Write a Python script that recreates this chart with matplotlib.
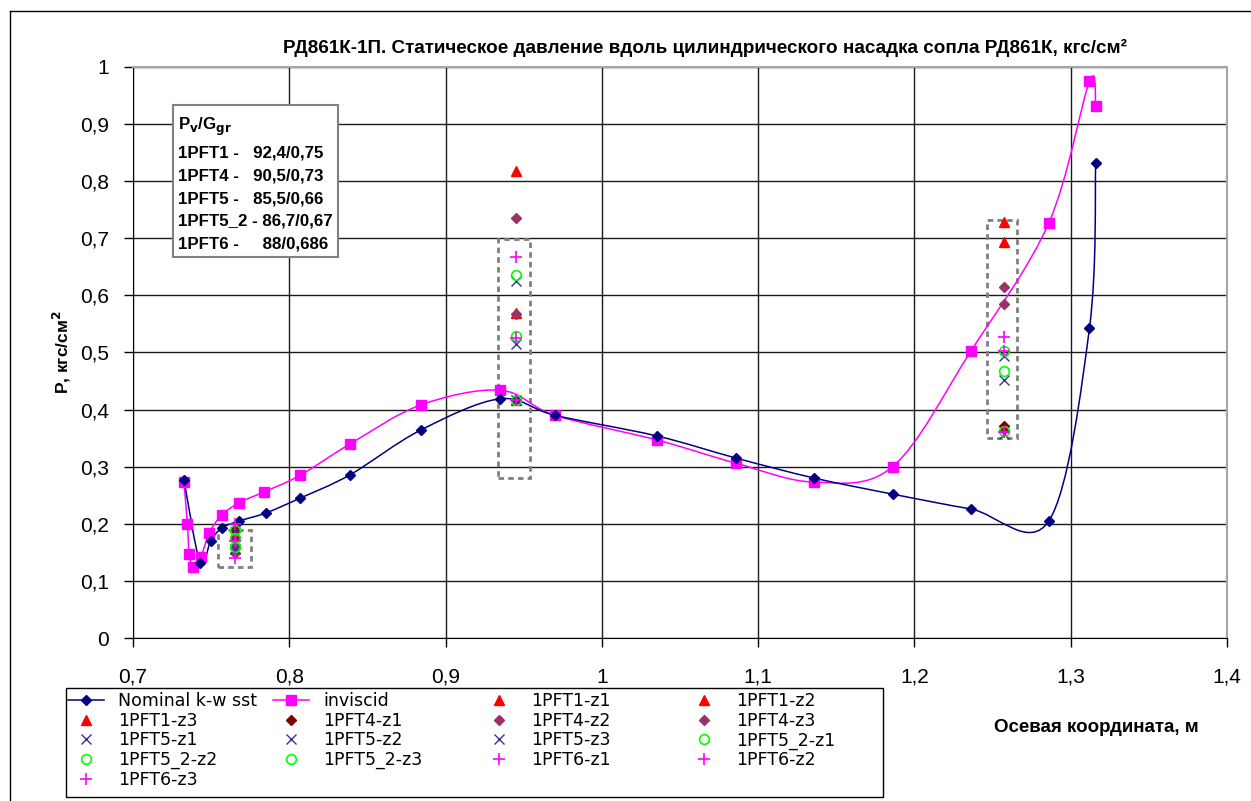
import numpy as np
import matplotlib
matplotlib.use("Agg")
import matplotlib.pyplot as plt
from matplotlib.path import Path
from matplotlib.patches import PathPatch, Rectangle
from matplotlib.lines import Line2D
from matplotlib.ticker import FuncFormatter, MultipleLocator

# CFD: nominal k-w SST and inviscid runs
nom_x = [0.7326, 0.743, 0.7497, 0.757, 0.768, 0.785, 0.807, 0.839, 0.884,
         0.935, 0.970, 1.035, 1.086, 1.136, 1.186, 1.236, 1.286, 1.312, 1.316]
nom_p = [0.277, 0.131, 0.170, 0.193, 0.205, 0.219, 0.245, 0.286, 0.364,
         0.419, 0.390, 0.354, 0.315, 0.280, 0.252, 0.226, 0.205, 0.543, 0.832]

inv_x = [0.7326, 0.7348, 0.736, 0.7386, 0.7433, 0.7488, 0.7567, 0.768, 0.784,
         0.807, 0.839, 0.884, 0.935, 0.970, 1.035, 1.086, 1.136, 1.186, 1.236,
         1.286, 1.312, 1.316]
inv_p = [0.273, 0.200, 0.147, 0.125, 0.141, 0.184, 0.215, 0.237, 0.256,
         0.285, 0.340, 0.408, 0.434, 0.390, 0.347, 0.306, 0.273, 0.300, 0.502,
         0.727, 0.975, 0.932]

# test points at three stations along the nozzle extension
x_sec = [0.765, 0.945, 1.257]
pft1_z1 = [0.195, 0.817, 0.729]
pft1_z2 = [0.180, 0.569, 0.694]
pft1_z3 = [0.165, 0.417, 0.370]
pft4_z1 = [0.190, 0.417, 0.372]
pft4_z2 = [0.160, 0.736, 0.614]
pft4_z3 = [0.148, 0.568, 0.585]
pft5_z1 = [0.185, 0.626, 0.493]
pft5_z2 = [0.170, 0.515, 0.452]
pft5_z3 = [0.155, 0.417, 0.357]
pft52_z1 = [0.190, 0.636, 0.502]
pft52_z2 = [0.175, 0.529, 0.468]
pft52_z3 = [0.160, 0.417, 0.362]
pft6_z1 = [0.200, 0.667, 0.527]
pft6_z2 = [0.170, 0.525, 0.502]
pft6_z3 = [0.140, 0.417, 0.360]

# regime table P_v / G_gr
regimes = ["1PFT1 -   92,4/0,75", "1PFT4 -   90,5/0,73", "1PFT5 -   85,5/0,66",
           "1PFT5_2 - 86,7/0,67", "1PFT6 -     88/0,686"]

# measurement station frames (x0, x1, y0, y1)
frames = [(0.7546, 0.7753, 0.124, 0.190),
          (0.9337, 0.9540, 0.280, 0.698),
          (1.2466, 1.2657, 0.350, 0.732)]

W, H = 1251, 801
fig = plt.figure(figsize=(W / 100, H / 100), dpi=100)
ax = fig.add_axes([133 / W, 1 - 638 / H, (1227 - 133) / W, (638 - 67) / H])


def smooth_path(x, y):
    """Cubic Bezier through the points, same look as a spreadsheet 'smoothed line'."""
    pts = np.column_stack([x, y]).astype(float)
    n = len(pts)
    verts, codes = [pts[0]], [Path.MOVETO]
    for i in range(n - 1):
        p0, p1 = pts[max(i - 1, 0)], pts[i]
        p2, p3 = pts[i + 1], pts[min(i + 2, n - 1)]
        verts += [p1 + (p2 - p0) / 6, p2 - (p3 - p1) / 6, p2]
        codes += [Path.CURVE4] * 3
    return Path(verts, codes)


NAVY, MAG = "#000080", "#ff00ff"
ax.add_patch(PathPatch(smooth_path(inv_x, inv_p), fc="none", ec=MAG, lw=1.1, zorder=3))
ax.add_patch(PathPatch(smooth_path(nom_x, nom_p), fc="none", ec=NAVY, lw=1.1, zorder=3))
ax.plot(inv_x, inv_p, ls="none", marker="s", ms=7, color=MAG, zorder=4)
ax.plot(nom_x, nom_p, ls="none", marker="D", ms=5.5, color=NAVY, zorder=4)

for x0, x1, y0, y1 in frames:
    ax.add_patch(Rectangle((x0, y0), x1 - x0, y1 - y0, fill=False, ec="#808080",
                           lw=2, ls=(0, (2, 1.5)), zorder=2))

series = [
    ("1PFT1-z1", pft1_z1, dict(marker="^", color="red", ms=7)),
    ("1PFT1-z2", pft1_z2, dict(marker="^", color="red", ms=7)),
    ("1PFT1-z3", pft1_z3, dict(marker="^", color="red", ms=7)),
    ("1PFT4-z1", pft4_z1, dict(marker="D", color="#800000", ms=5)),
    ("1PFT4-z2", pft4_z2, dict(marker="D", color="#993366", ms=5)),
    ("1PFT4-z3", pft4_z3, dict(marker="D", color="#993366", ms=5)),
    ("1PFT5-z1", pft5_z1, dict(marker="x", color="#333399", ms=7, mew=1)),
    ("1PFT5-z2", pft5_z2, dict(marker="x", color="#333399", ms=7, mew=1)),
    ("1PFT5-z3", pft5_z3, dict(marker="x", color="#333399", ms=7, mew=1)),
    ("1PFT5_2-z1", pft52_z1, dict(marker="o", color="#00ff00", mfc="none", ms=7, mew=1.2)),
    ("1PFT5_2-z2", pft52_z2, dict(marker="o", color="#00ff00", mfc="none", ms=7, mew=1.2)),
    ("1PFT5_2-z3", pft52_z3, dict(marker="o", color="#00ff00", mfc="none", ms=7, mew=1.2)),
    ("1PFT6-z1", pft6_z1, dict(marker="+", color=MAG, ms=8, mew=1.2)),
    ("1PFT6-z2", pft6_z2, dict(marker="+", color=MAG, ms=8, mew=1.2)),
    ("1PFT6-z3", pft6_z3, dict(marker="+", color=MAG, ms=8, mew=1.2)),
]
handles = [Line2D([], [], color=NAVY, marker="D", ms=5.5, lw=1.1),
           Line2D([], [], color=MAG, marker="s", ms=7, lw=1.1)]
labels = ["Nominal k-w sst", "inviscid"]
for name, vals, style in series:
    h, = ax.plot(x_sec, vals, ls="none", zorder=5, **style)
    handles.append(h)
    labels.append(name)

ax.set_xlim(0.7, 1.4)
ax.set_ylim(0, 1)
ax.xaxis.set_major_locator(MultipleLocator(0.1))
ax.yaxis.set_major_locator(MultipleLocator(0.1))
comma = FuncFormatter(lambda v, _: f"{round(v, 2):g}".replace(".", ","))
ax.xaxis.set_major_formatter(comma)
ax.yaxis.set_major_formatter(comma)
ax.tick_params(direction="out", length=6.5, width=1, labelsize=15)
ax.tick_params(axis="x", pad=15)
ax.tick_params(axis="y", pad=11)
for lab in ax.get_xticklabels() + ax.get_yticklabels():
    lab.set_family(["Liberation Sans", "DejaVu Sans"])
ax.grid(True, color="#1a1a1a", lw=1)
ax.set_axisbelow(True)
for side in ("left", "bottom"):
    ax.spines[side].set_color("black")
for side in ("top", "right"):
    ax.spines[side].set_color("#a6a6a6")
    ax.spines[side].set_linewidth(1.5)

ax.text(0.041, 0.915, "P$_\\mathbf{v}$/G$_\\mathbf{gr}$\n" + "\n".join(regimes),
        transform=ax.transAxes, va="top", ha="left", fontsize=12.2,
        fontweight="bold", family=["Liberation Sans", "DejaVu Sans"],
        linespacing=1.65, zorder=6,
        bbox=dict(boxstyle="square,pad=0.3", fc="white", ec="#808080", lw=1.5))

fig.text(0.5635, 1 - 48 / H, "РД861К-1П. Статическое давление вдоль цилиндрического "
         "насадка сопла РД861К, кгс/см²", ha="center", va="center", fontsize=13.6,
         fontweight="bold", family=["Liberation Sans Narrow", "Liberation Sans",
                                    "DejaVu Sans"])
fig.text(62 / W, 1 - 352 / H, "P, кгс/см$^\\mathbf{2}$", rotation=90, ha="center",
         va="center", fontsize=12.5, fontweight="bold",
         family=["Liberation Sans", "DejaVu Sans"])
fig.text(1096 / W, 1 - 728 / H, "Осевая координата, м", ha="center", va="center",
         fontsize=13.5, fontweight="bold", family=["Liberation Sans", "DejaVu Sans"])

# legend frame, then one column per legend so the columns sit on an even grid
fig.add_artist(Rectangle((66 / W, 1 - 797 / H), (883 - 66) / W, (797 - 688) / H,
                         transform=fig.transFigure, fill=False, ec="black", lw=1))
col_x = [68, 273, 481, 686]
for c, x0 in enumerate(col_x):
    idx = list(range(c, len(handles), 4))
    fig.legend([handles[i] for i in idx], [labels[i] for i in idx],
               loc="upper left", bbox_to_anchor=(x0 / W, 1 - 692 / H),
               frameon=False, borderpad=0, borderaxespad=0,
               handlelength=2.1, handletextpad=0.8, labelspacing=0.1,
               prop={"family": ["DejaVu Sans"], "size": 12.5})

# outer chart frame
fig.add_artist(Line2D([10 / W, 10 / W], [0, 1 - 11 / H], color="black", lw=1))
fig.add_artist(Line2D([10 / W, 1], [1 - 11 / H, 1 - 11 / H], color="black", lw=1))

fig.savefig("out.png", dpi=100)
